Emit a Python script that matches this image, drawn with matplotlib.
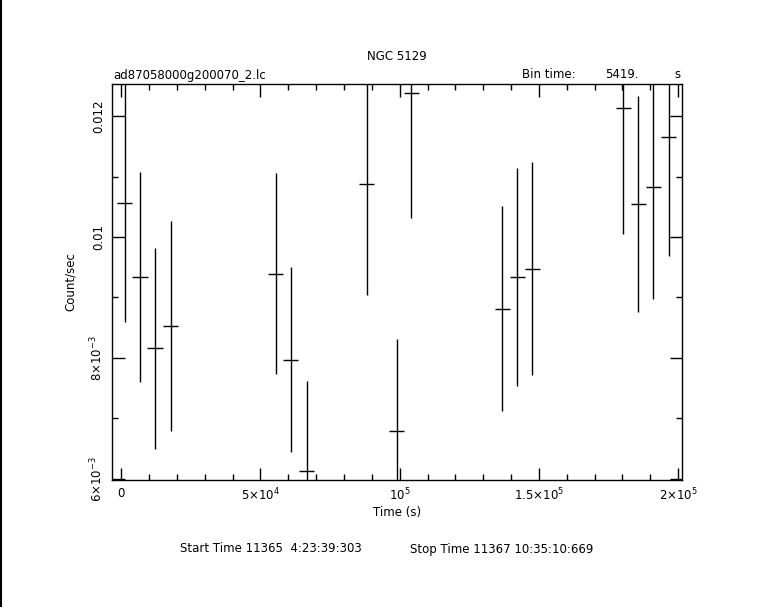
import matplotlib
matplotlib.use("Agg")
import matplotlib.pyplot as plt
from matplotlib.ticker import FixedLocator, MultipleLocator

# Data (time in s, rate in count/sec, symmetric errors)
time = [1257, 6714, 12100, 17700, 55400, 60800, 66540, 88080, 98990, 104130,
        136920, 142300, 147690, 180360, 185750, 191130, 196660]
rate = [0.010561, 0.009340, 0.008158, 0.008532, 0.009395, 0.007972, 0.006125,
        0.010874, 0.006790, 0.012374, 0.008813, 0.009340, 0.009472, 0.012127,
        0.010549, 0.010824, 0.011649]
rate_err = [0.00197, 0.001737, 0.001657, 0.00174, 0.001657, 0.001528, 0.001489,
            0.001837, 0.001517, 0.002061, 0.001695, 0.001802, 0.001761, 0.002077,
            0.001786, 0.001853, 0.001969]
bin_time = 5419.0
time_err = [bin_time / 2] * len(time)

xticks = [0, 5e4, 1e5, 1.5e5, 2e5]
xticklabels = ["0", r"5$\times$10$^4$", r"10$^5$", r"1.5$\times$10$^5$", r"2$\times$10$^5$"]
yticks = [0.006, 0.008, 0.010, 0.012]
yticklabels = [r"6$\times$10$^{-3}$", r"8$\times$10$^{-3}$", "0.01", "0.012"]

W, H = 761, 607
fig = plt.figure(figsize=(W / 100, H / 100), dpi=100)
left, right, top, bottom = 112, 682, 84, 480
ax = fig.add_axes([left / W, 1 - bottom / H, (right - left) / W, (bottom - top) / H])

ax.errorbar(time, rate, yerr=rate_err, xerr=time_err, fmt="none",
            ecolor="black", elinewidth=1.0, capsize=0)

ax.set_xlim(-3340, 201400)
ax.set_ylim(0.00598, 0.01253)

fs = 8.5
ax.xaxis.set_major_locator(FixedLocator(xticks))
ax.set_xticklabels(xticklabels, fontsize=fs)
ax.xaxis.set_minor_locator(MultipleLocator(1e4))
ax.yaxis.set_major_locator(FixedLocator(yticks))
ax.set_yticklabels(yticklabels, fontsize=fs, rotation=90, va="center")
ax.yaxis.set_minor_locator(MultipleLocator(0.001))
ax.tick_params(which="both", direction="in", top=True, right=True, width=1, color="black")
ax.tick_params(which="major", length=9, pad=5)
ax.tick_params(which="minor", length=4)
for s in ax.spines.values():
    s.set_linewidth(1)

ax.set_xlabel("Time (s)", fontsize=fs, labelpad=2)
ax.set_ylabel("Count/sec", fontsize=fs, labelpad=8)

fig.text(397 / W, 1 - 57 / H, "NGC 5129", ha="center", va="center", fontsize=fs)
fig.text(113 / W, 1 - 75 / H, "ad87058000g200070_2.lc", ha="left", va="center", fontsize=fs)
fig.text(522 / W, 1 - 75 / H, "Bin time:", ha="left", va="center", fontsize=fs)
fig.text(605 / W, 1 - 75 / H, "5419.", ha="left", va="center", fontsize=fs)
fig.text(681 / W, 1 - 75 / H, "s", ha="right", va="center", fontsize=fs)
fig.text(180 / W, 1 - 549 / H, "Start Time 11365  4:23:39:303",
         ha="left", va="center", fontsize=fs)
fig.text(410 / W, 1 - 549 / H, "Stop Time 11367 10:35:10:669",
         ha="left", va="center", fontsize=fs)

# left border line of the page
fig.add_artist(plt.Line2D([0.5 / W, 0.5 / W], [0, 1], color="black", linewidth=1.5))

fig.savefig("out.png", dpi=100)
